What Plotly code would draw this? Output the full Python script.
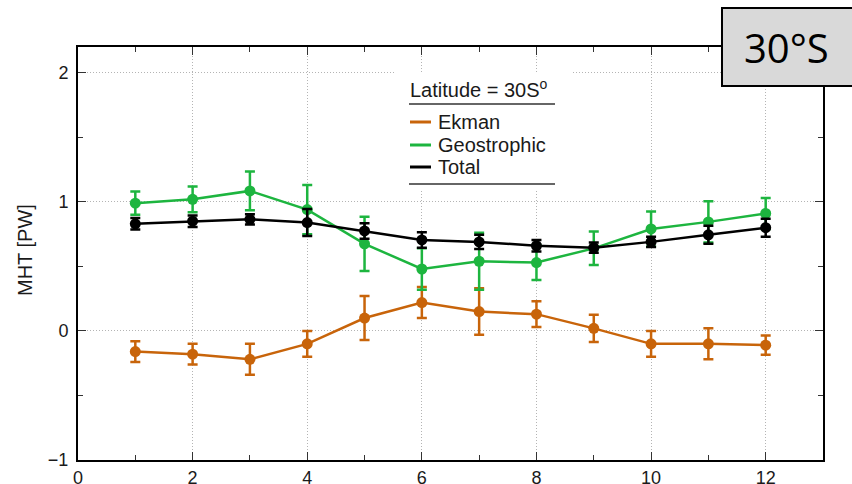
import plotly.graph_objects as go

# Monthly meridional heat transport at 30°S (PW)
months = [1, 2, 3, 4, 5, 6, 7, 8, 9, 10, 11, 12]

ekman = [-0.16, -0.18, -0.22, -0.10, 0.10, 0.22, 0.15, 0.13, 0.02, -0.10, -0.10, -0.11]
ekman_err = [0.08, 0.08, 0.12, 0.10, 0.17, 0.12, 0.18, 0.10, 0.105, 0.10, 0.12, 0.075]

geostrophic = [0.99, 1.02, 1.085, 0.94, 0.675, 0.48, 0.54, 0.53, 0.64, 0.79, 0.845, 0.91]
geostrophic_err = [0.09, 0.10, 0.15, 0.19, 0.21, 0.16, 0.22, 0.135, 0.13, 0.135, 0.16, 0.12]

total = [0.83, 0.85, 0.865, 0.84, 0.775, 0.705, 0.69, 0.66, 0.645, 0.69, 0.745, 0.80]
total_err = [0.045, 0.045, 0.04, 0.105, 0.06, 0.06, 0.055, 0.045, 0.04, 0.04, 0.07, 0.07]

series_names = ["Ekman", "Geostrophic", "Total"]
series_colors = ["#c8640a", "#1db53f", "#000000"]

x_tickvals = [0, 2, 4, 6, 8, 10, 12]
y_tickvals = [-1, 0, 1, 2]

W, H = 852, 484
L, R, T, B = 78, 29, 47, 24
font_family = "Liberation Sans, Arial, sans-serif"
text_color = "#1a1a1a"


def px_x(px):
    return (px - L) / (W - L - R)


def px_y(py):
    return (H - B - py) / (H - T - B)


fig = go.Figure()
for name, ys, errs, color in zip(series_names,
                                 [ekman, geostrophic, total],
                                 [ekman_err, geostrophic_err, total_err],
                                 series_colors):
    fig.add_trace(go.Scatter(
        x=months, y=ys, name=name, mode="lines+markers",
        line=dict(color=color, width=2.5),
        marker=dict(color=color, size=11),
        error_y=dict(type="data", array=errs, visible=True,
                     color=color, thickness=2.5, width=5),
        showlegend=False,
    ))

axis_common = dict(
    automargin=False,
    showline=True, linecolor="black", linewidth=2, mirror="allticks",
    ticks="inside", ticklen=8, tickcolor="#333", tickwidth=1.2,
    showgrid=True, gridcolor="#b4b4b4", griddash="1px,2px", gridwidth=1,
    zeroline=False,
    tickfont=dict(family=font_family, size=18, color=text_color),
)

fig.update_xaxes(range=[0, 13], tickvals=x_tickvals,
                 minor=dict(dtick=1, ticks="inside", ticklen=5, tickcolor="#333", showgrid=False),
                 **axis_common)
fig.update_yaxes(range=[-1, 2.2], tickvals=y_tickvals, ticklabelstandoff=4,
                 minor=dict(dtick=0.5, ticks="inside", ticklen=5, tickcolor="#333", showgrid=False),
                 **axis_common)

shapes = []
annotations = []

# Y-axis title
annotations.append(dict(xref="paper", yref="paper", x=px_x(25), y=px_y(250),
                        xanchor="center", yanchor="middle", showarrow=False,
                        textangle=-90, text="MHT [PW]",
                        font=dict(family=font_family, size=20, color=text_color)))

# Legend panel: white backing, title, rules and colored keys
shapes.append(dict(type="rect", xref="paper", yref="paper",
                   x0=px_x(395), x1=px_x(572), y0=px_y(190), y1=px_y(72),
                   fillcolor="white", line=dict(width=0), layer="above"))
annotations.append(dict(xref="paper", yref="paper", x=px_x(408), y=px_y(88),
                        xanchor="left", yanchor="middle", showarrow=False,
                        text="Latitude = 30S<sup>o</sup>",
                        font=dict(family=font_family, size=20, color=text_color)))
for py in (104, 184):
    shapes.append(dict(type="line", xref="paper", yref="paper",
                       x0=px_x(409), x1=px_x(555), y0=px_y(py), y1=px_y(py),
                       line=dict(color="#333", width=1.5), layer="above"))
for name, color, py in zip(series_names, series_colors, (122, 145, 167)):
    shapes.append(dict(type="line", xref="paper", yref="paper",
                       x0=px_x(410), x1=px_x(431), y0=px_y(py), y1=px_y(py),
                       line=dict(color=color, width=3), layer="above"))
    annotations.append(dict(xref="paper", yref="paper", x=px_x(436), y=px_y(py),
                            xanchor="left", yanchor="middle", showarrow=False,
                            text=name,
                            font=dict(family=font_family, size=20, color=text_color)))

# Latitude badge in the top-right corner
shapes.append(dict(type="rect", xref="paper", yref="paper",
                   x0=px_x(722), x1=px_x(853), y0=px_y(86), y1=px_y(8),
                   fillcolor="#d9d9d9", line=dict(color="black", width=2), layer="above"))
annotations.append(dict(xref="paper", yref="paper", x=px_x(786), y=px_y(47),
                        xanchor="center", yanchor="middle", showarrow=False,
                        text="30°S",
                        font=dict(family="Open Sans, sans-serif", size=40, color="black")))

fig.update_layout(
    width=W, height=H,
    margin=dict(l=L, r=R, t=T, b=B, pad=0, autoexpand=False),
    paper_bgcolor="white", plot_bgcolor="white",
    shapes=shapes, annotations=annotations,
    showlegend=False,
)

fig.write_html("out.html")
